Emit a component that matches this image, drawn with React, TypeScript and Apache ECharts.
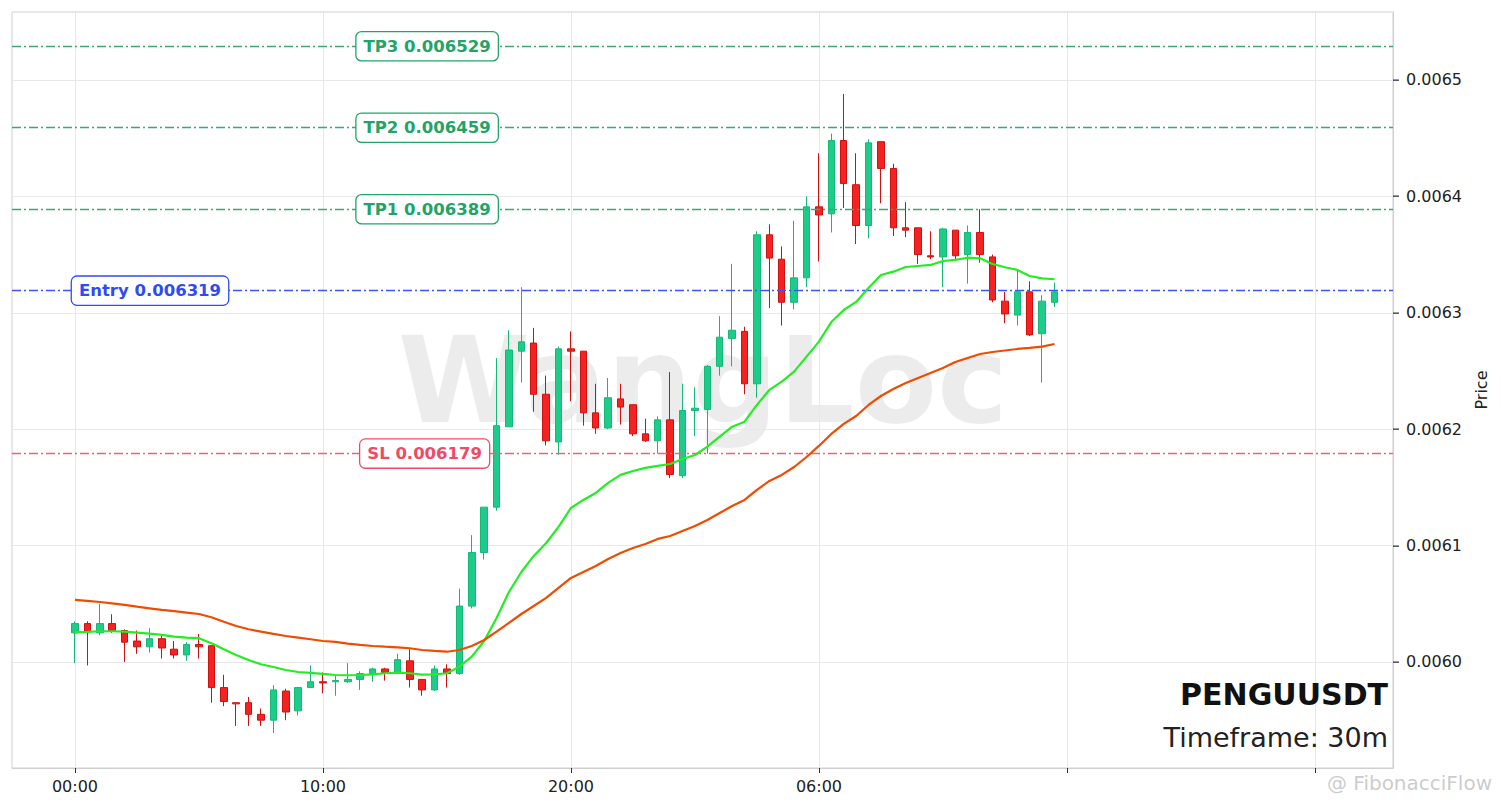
import React, { useEffect, useRef } from 'react';
import * as echarts from 'echarts';

// OHLC values, one entry per 30m candle
const opens = [
  0.006025, 0.006033, 0.006025, 0.006033, 0.006027, 0.006018, 0.006013, 0.006020, 0.006011, 0.006006,
  0.006015, 0.006014, 0.005978, 0.005965, 0.005965, 0.005955, 0.005950, 0.005975, 0.005958, 0.005978,
  0.005983, 0.005983, 0.005983, 0.005985, 0.005990, 0.005994, 0.005990, 0.006001, 0.005985, 0.005976,
  0.005994, 0.005990, 0.006048, 0.006094, 0.006133, 0.006202, 0.006267, 0.006274, 0.006230, 0.006189,
  0.006269, 0.006267, 0.006214, 0.006201, 0.006226, 0.006221, 0.006196, 0.006190, 0.006208, 0.006160,
  0.006216, 0.006217, 0.006254, 0.006278, 0.006284, 0.006239, 0.006367, 0.006346, 0.006309, 0.006330,
  0.006391, 0.006385, 0.006448, 0.006410, 0.006375, 0.006447, 0.006424, 0.006373, 0.006373, 0.006349,
  0.006348, 0.006371, 0.006350, 0.006369, 0.006348, 0.006310, 0.006298, 0.006318, 0.006282, 0.006309,
];
const closes = [
  0.006033, 0.006026, 0.006033, 0.006027, 0.006017, 0.006013, 0.006020, 0.006012, 0.006006, 0.006015,
  0.006013, 0.005978, 0.005966, 0.005964, 0.005955, 0.005950, 0.005976, 0.005957, 0.005978, 0.005983,
  0.005982, 0.005984, 0.005985, 0.005990, 0.005994, 0.005991, 0.006002, 0.005985, 0.005976, 0.005994,
  0.005990, 0.006048, 0.006094, 0.006133, 0.006203, 0.006268, 0.006275, 0.006230, 0.006190, 0.006269,
  0.006267, 0.006214, 0.006201, 0.006227, 0.006219, 0.006196, 0.006190, 0.006208, 0.006161, 0.006216,
  0.006218, 0.006254, 0.006279, 0.006285, 0.006239, 0.006367, 0.006347, 0.006309, 0.006330, 0.006391,
  0.006384, 0.006448, 0.006411, 0.006375, 0.006446, 0.006424, 0.006373, 0.006371, 0.006350, 0.006348,
  0.006372, 0.006349, 0.006369, 0.006350, 0.006311, 0.006299, 0.006318, 0.006281, 0.006310, 0.006318,
];
const lows = [
  0.005999, 0.005997, 0.006023, 0.006025, 0.006000, 0.006007, 0.006008, 0.006003, 0.006003, 0.006001,
  0.006003, 0.005965, 0.005962, 0.005945, 0.005945, 0.005945, 0.005939, 0.005950, 0.005954, 0.005978,
  0.005973, 0.005971, 0.005982, 0.005976, 0.005983, 0.005984, 0.005990, 0.005978, 0.005971, 0.005975,
  0.005978, 0.005989, 0.006046, 0.006088, 0.006130, 0.006202, 0.006240, 0.006215, 0.006186, 0.006178,
  0.006224, 0.006203, 0.006196, 0.006200, 0.006204, 0.006194, 0.006189, 0.006179, 0.006158, 0.006158,
  0.006194, 0.006179, 0.006246, 0.006254, 0.006230, 0.006227, 0.006304, 0.006289, 0.006303, 0.006322,
  0.006344, 0.006369, 0.006390, 0.006359, 0.006364, 0.006394, 0.006366, 0.006365, 0.006342, 0.006346,
  0.006322, 0.006346, 0.006325, 0.006343, 0.006309, 0.006291, 0.006289, 0.006280, 0.006240, 0.006305,
];
const highs = [
  0.006035, 0.006035, 0.006050, 0.006041, 0.006028, 0.006027, 0.006029, 0.006024, 0.006018, 0.006017,
  0.006024, 0.006014, 0.005989, 0.005965, 0.005970, 0.005960, 0.005980, 0.005977, 0.005978, 0.005997,
  0.005991, 0.005988, 0.005999, 0.005992, 0.005995, 0.005995, 0.006007, 0.006011, 0.005985, 0.005997,
  0.005998, 0.006063, 0.006109, 0.006133, 0.006261, 0.006285, 0.006322, 0.006287, 0.006246, 0.006271,
  0.006284, 0.006267, 0.006239, 0.006244, 0.006239, 0.006221, 0.006209, 0.006211, 0.006249, 0.006239,
  0.006236, 0.006255, 0.006297, 0.006342, 0.006288, 0.006370, 0.006376, 0.006357, 0.006379, 0.006400,
  0.006437, 0.006454, 0.006488, 0.006437, 0.006449, 0.006447, 0.006428, 0.006395, 0.006373, 0.006370,
  0.006373, 0.006371, 0.006375, 0.006389, 0.006350, 0.006318, 0.006337, 0.006327, 0.006315, 0.006326,
];
// Fast (green) and slow (orange) moving averages
const emaFast = [
  0.0060255, 0.0060258, 0.0060264, 0.0060264, 0.006026, 0.0060252, 0.0060243, 0.0060232, 0.0060217, 0.0060209,
  0.0060204, 0.0060161, 0.0060109, 0.006006, 0.0060017, 0.005998, 0.0059957, 0.0059931, 0.0059914, 0.0059906,
  0.0059897, 0.0059888, 0.0059886, 0.0059888, 0.0059894, 0.0059903, 0.0059908, 0.0059903, 0.0059891, 0.0059894,
  0.0059903, 0.005996, 0.0060046, 0.006018, 0.0060378, 0.0060601, 0.0060773, 0.0060911, 0.0061022, 0.006116,
  0.0061323, 0.0061392, 0.0061452, 0.0061538, 0.0061607, 0.0061641, 0.0061667, 0.0061684, 0.0061701, 0.0061744,
  0.0061778, 0.006185, 0.0061936, 0.0062021, 0.0062064, 0.0062208, 0.0062337, 0.0062408, 0.0062494, 0.0062623,
  0.0062752, 0.0062921, 0.0063024, 0.0063093, 0.0063213, 0.0063325, 0.0063353, 0.0063393, 0.0063402, 0.0063411,
  0.0063445, 0.0063454, 0.0063473, 0.0063468, 0.0063419, 0.0063391, 0.0063368, 0.0063316, 0.0063296, 0.0063288,
];
const emaSlow = [
  0.0060533, 0.0060524, 0.0060515, 0.0060504, 0.006049, 0.0060475, 0.0060461, 0.0060447, 0.0060436, 0.0060424,
  0.0060412, 0.0060384, 0.0060346, 0.0060309, 0.0060281, 0.006026, 0.0060241, 0.0060223, 0.0060209, 0.0060195,
  0.006018, 0.0060172, 0.0060157, 0.0060146, 0.0060137, 0.0060131, 0.0060126, 0.0060118, 0.0060103, 0.0060095,
  0.0060088, 0.0060103, 0.0060137, 0.0060189, 0.006026, 0.0060335, 0.0060412, 0.0060481, 0.006055, 0.0060636,
  0.0060722, 0.0060773, 0.0060825, 0.0060885, 0.0060936, 0.0060979, 0.0061014, 0.0061057, 0.0061082, 0.0061125,
  0.0061168, 0.006122, 0.006128, 0.006134, 0.0061392, 0.0061478, 0.0061555, 0.0061607, 0.0061675, 0.0061761,
  0.0061856, 0.0061959, 0.0062045, 0.0062113, 0.0062208, 0.0062285, 0.0062345, 0.0062397, 0.006244, 0.0062483,
  0.0062526, 0.0062577, 0.0062612, 0.0062646, 0.0062663, 0.0062676, 0.0062689, 0.0062698, 0.0062709, 0.0062732,
];

// x-axis ticks (candle index) and their labels
const xTickIndex = [0, 20, 40, 60, 80, 100];
const xLabelIndex = [0, 20, 40, 60];
const xTickLabels = ['00:00', '10:00', '20:00', '06:00'];
const yTickValues = [0.006, 0.0061, 0.0062, 0.0063, 0.0064, 0.0065];

// trade levels
const levelNames = ['TP3', 'TP2', 'TP1', 'Entry', 'SL'];
const levelPrices = [0.006529, 0.006459, 0.006389, 0.006319, 0.006179];
const levelLabelIndex = [28.4, 28.4, 28.4, 6.05, 28.2];

const symbol = 'PENGUUSDT';
const timeframe = 'Timeframe: 30m';
const watermark = 'WangLoc';

const levelColor = (name: string) =>
  name === 'Entry' ? '#2f4bf5' : name === 'SL' ? '#f04a66' : '#22a367';
const levelLineColor = (name: string) =>
  name === 'Entry' ? '#3a55ff' : name === 'SL' ? '#f0607a' : '#3aa874';

export default function App() {
  const ref = useRef<HTMLDivElement>(null);
  useEffect(() => {
    const chart = echarts.init(ref.current!, null, { renderer: 'svg' });
    const candleData = opens.map((o, i) => [i, o, closes[i], lows[i], highs[i]]);
    const fastData = emaFast.map((v, i) => [i, v]);
    const slowData = emaSlow.map((v, i) => [i, v]);
    const xMin = -5.08;
    const xMax = 106.3;

    const option: any = {
      animation: false,
      backgroundColor: '#ffffff',
      textStyle: { fontFamily: 'DejaVu Sans' },
      grid: {
        left: 12,
        right: 108,
        top: 12,
        bottom: 40,
        show: true,
        borderColor: '#cfcfcf',
        borderWidth: 1,
        backgroundColor: 'transparent',
      },
      xAxis: {
        type: 'value',
        min: xMin,
        max: xMax,
        axisLine: { show: true, onZero: false, lineStyle: { color: '#cfcfcf' } },
        axisTick: {
          show: true,
          inside: false,
          customValues: xTickIndex,
          length: 5,
          lineStyle: { color: '#333', width: 1 },
        },
        axisLabel: {
          customValues: xLabelIndex,
          formatter: (v: number) => {
            const k = xLabelIndex.indexOf(Math.round(v));
            return k >= 0 ? xTickLabels[k] : '';
          },
          color: '#222',
          fontSize: 16,
          fontFamily: 'DejaVu Sans',
          margin: 10,
        },
        splitLine: { show: true, lineStyle: { color: '#e8e8e8', width: 1 } },
      },
      yAxis: {
        type: 'value',
        position: 'right',
        min: 0.0059089,
        max: 0.0065584,
        name: 'Price',
        nameLocation: 'middle',
        nameGap: 80,
        nameRotate: 90,
        nameTextStyle: { fontSize: 16, color: '#222' },
        axisLine: { show: true, onZero: false, lineStyle: { color: '#cfcfcf' } },
        axisTick: { show: false },
        axisLabel: {
          customValues: yTickValues,
          formatter: (v: number) => v.toFixed(4),
          color: '#222',
          fontSize: 16,
          fontFamily: 'DejaVu Sans',
          margin: 13,
        },
        splitLine: { show: true, lineStyle: { color: '#e8e8e8', width: 1 } },
      },
      graphic: [
        {
          type: 'text',
          x: 703,
          y: 380,
          z: 0,
          silent: true,
          style: {
            text: watermark,
            fontSize: 120,
            lineHeight: 96,
            fontWeight: 'bold',
            fontFamily: 'DejaVu Sans',
            fill: 'rgba(0,0,0,0.075)',
            textAlign: 'center',
            textVerticalAlign: 'middle',
          },
        },
        {
          type: 'text',
          x: 1388,
          y: 694,
          z: 10,
          style: {
            text: symbol,
            fontSize: 30,
            fontWeight: 'bold',
            fontFamily: 'DejaVu Sans',
            fill: '#111',
            textAlign: 'right',
            textVerticalAlign: 'middle',
          },
        },
        {
          type: 'text',
          x: 1388,
          y: 737,
          z: 10,
          style: {
            text: timeframe,
            fontSize: 27,
            fontFamily: 'DejaVu Sans',
            fill: '#222',
            textAlign: 'right',
            textVerticalAlign: 'middle',
          },
        },
        {
          type: 'text',
          x: 1492,
          y: 783,
          z: 10,
          style: {
            text: '@ FibonacciFlow',
            fontSize: 20,
            fontFamily: 'DejaVu Sans',
            fill: 'rgba(160,160,160,0.55)',
            textAlign: 'right',
            textVerticalAlign: 'middle',
          },
        },
      ],
      series: [
        {
          type: 'line',
          name: 'levels',
          data: levelPrices.map((p) => [xMin, p]),
          showSymbol: false,
          symbol: 'none',
          lineStyle: { opacity: 0 },
          z: 2,
          markLine: {
            silent: true,
            symbol: 'none',
            label: { show: false },
            data: levelNames.map((n, i) => [
              {
                coord: [xMin, levelPrices[i]],
                lineStyle: {
                  color: levelLineColor(n),
                  width: 1.3,
                  type: [9, 3, 2, 3],
                },
              },
              { coord: [xMax, levelPrices[i]] },
            ]),
          },
        },
        {
          type: 'candlestick',
          data: candleData,
          barWidth: 7,
          z: 3,
          itemStyle: {
            color: '#1ccc88',
            color0: '#f52222',
            borderColor: '#14b878',
            borderColor0: '#d01010',
            borderWidth: 1,
          },
          markPoint: {
            silent: true,
            z: 10,
            symbol: 'rect',
            symbolSize: [1, 1],
            itemStyle: { color: 'rgba(0,0,0,0)' },
            data: levelNames.map((n, i) => ({
              coord: [levelLabelIndex[i], levelPrices[i]],
              label: {
                show: true,
                position: 'inside',
                formatter: `${n} ${levelPrices[i].toFixed(6)}`,
                color: levelColor(n),
                fontSize: 16.5,
                fontWeight: 'bold',
                fontFamily: 'DejaVu Sans',
                backgroundColor: '#ffffff',
                borderColor: levelColor(n),
                borderWidth: 1.3,
                borderRadius: 5,
                padding: [6, 7, 5, 7],
              },
            })),
          },
        },
        {
          type: 'line',
          data: fastData,
          showSymbol: false,
          z: 5,
          lineStyle: { color: '#22ee22', width: 2.2 },
        },
        {
          type: 'line',
          data: slowData,
          showSymbol: false,
          z: 5,
          lineStyle: { color: '#f04c00', width: 2.2 },
        },
        {
          // y-axis tick marks drawn as small filled rects via the axis scale
          type: 'custom',
          clip: false,
          silent: true,
          z: 20,
          data: yTickValues.map((v) => [xMax, v]),
          encode: { x: 0, y: 1 },
          renderItem: (params: any, api: any) => {
            const p = api.coord([api.value(0), api.value(1)]);
            return {
              type: 'rect',
              shape: { x: p[0], y: Math.round(p[1]) - 0.5, width: 6, height: 1.3 },
              style: { fill: '#333' },
            };
          },
        },
      ],
    };
    chart.setOption(option);
    return () => chart.dispose();
  }, []);
  return (
    <div
      ref={ref}
      style={{ position: 'absolute', left: 0, top: 0, width: 1501, height: 808 }}
    />
  );
}
